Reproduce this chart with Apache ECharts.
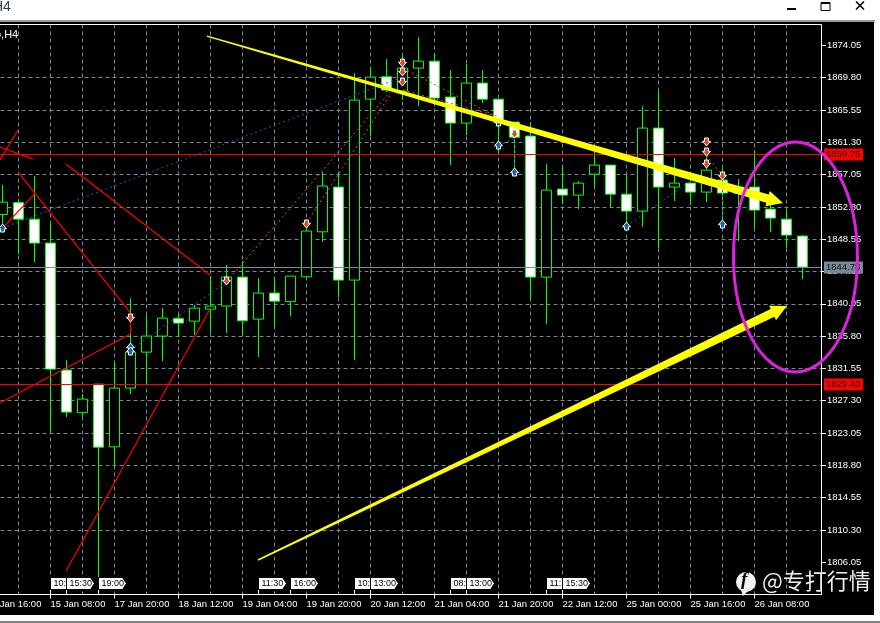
<!DOCTYPE html>
<html>
<head>
<meta charset="utf-8">
<style>html,body{margin:0;padding:0;background:#fff;overflow:hidden}#c{width:880px;height:623px}</style>
<script src="https://cdn.jsdelivr.net/npm/echarts@6/dist/echarts.min.js"></script>
</head>
<body>
<div id="c"></div>
<script>
// Candles, left to right. Each candle sits at axis value index + 1.
const opens = [1851.8,1853.37,1851.19,1848.04,1831.33,1825.73,1829.48,1821.23,1828.96,1833.69,1835.8,1838.1,1837.77,1839.35,1839.75,1843.56,1838.03,1841.46,1840.34,1843.6,1849.52,1855.41,1843.17,1866.98,1869.92,1868.04,1871.06,1871.98,1867.25,1863.83,1869.09,1866.98,1863.96,1862.12,1843.56,1855.14,1854.35,1857.11,1858.3,1854.48,1852.25,1863.17,1855.41,1855.93,1854.75,1856.33,1854.62,1855.41,1852.51,1851.19,1848.96];
const closes = [1853.43,1851.19,1848.04,1831.46,1825.8,1827.51,1821.19,1828.96,1833.69,1835.8,1838.17,1837.51,1839.48,1839.75,1843.56,1837.81,1841.46,1840.4,1843.69,1849.62,1855.54,1843.17,1866.85,1869.88,1868.17,1871.06,1871.98,1867.12,1863.83,1869.09,1866.98,1863.96,1861.98,1843.56,1855.01,1854.35,1855.93,1858.3,1854.48,1852.25,1863.17,1855.41,1855.93,1854.75,1857.64,1854.62,1855.41,1852.38,1851.33,1849.09,1844.88];
const lows = [1849.48,1846.59,1845.54,1823.3,1825.14,1825.14,1804.09,1818.83,1828.17,1829.61,1832.51,1835.67,1835.93,1836.32,1836.19,1835.93,1833.04,1836.98,1838.43,1843.43,1848.21,1840.93,1832.64,1862.12,1867.9,1866.85,1866.06,1866.06,1858.3,1862.25,1866.46,1859.88,1857.38,1840.8,1837.38,1853.17,1852.51,1855.27,1852.77,1849.75,1850.14,1847.38,1853.56,1853.04,1853.43,1850.14,1848.3,1850.01,1849.48,1847.38,1843.3];
const highs = [1855.67,1853.83,1856.85,1850.8,1832.64,1828.17,1829.48,1832.51,1840.8,1838.56,1839.48,1838.69,1839.88,1843.69,1845.14,1845.67,1843.43,1843.56,1843.69,1851.06,1857.38,1857.38,1870.4,1871.19,1872.25,1872.77,1875.14,1872.9,1870.8,1871.59,1870.8,1866.98,1863.96,1863.96,1858.43,1858.17,1856.19,1860.01,1858.3,1856.98,1866.06,1868.04,1859.22,1855.93,1860.54,1857.9,1856.46,1860.27,1853.69,1852.38,1849.09];

const xTickValues = [0,4,8,12,16,20,24,28,32,36,40,44,48];
const xTickLabels = ['14 Jan 16:00','15 Jan 08:00','17 Jan 20:00','18 Jan 12:00','19 Jan 04:00','19 Jan 20:00','20 Jan 12:00','21 Jan 04:00','21 Jan 20:00','22 Jan 12:00','25 Jan 00:00','25 Jan 16:00','26 Jan 08:00'];
const yTickValues = [1806.05,1810.30,1814.55,1818.80,1823.05,1827.30,1831.55,1835.80,1840.05,1844.30,1848.55,1852.80,1857.05,1861.30,1865.55,1869.80,1874.05];

const levelPrices = [1859.75,1829.40,1844.78];
const levelColors = ['#ff0000','#ff0000','#778899'];

const redSegments = [
  [[0.84,1858.96],[1.97,1862.91]],[[0.84,1860.67],[2.91,1859.09]],
  [[1.97,1857.38],[9,1838.84]],[[9,1838.84],[9,1836.07]],[[0,1826.07],[9,1836.07]],
  [[4.97,1858.44],[13.97,1843.83]],[[4.97,1804.89],[13.97,1839.36]],[[3,1854.49],[1,1850.02]]
];
const orangeSegments = [
  [[15,1842.91],[25.22,1867.91]],[[20,1850.68],[25.22,1867.52]],
  [[26.03,1871.07],[31.66,1864.89]],[[26.03,1868.18],[31.9,1864.76]],[[45,1859.62],[46,1856.86]]
];
const blueSegments = [
  [[1,1850.02],[26,1869.89]],[[9,1833.97],[15,1842.91]],[[32,1860.81],[33,1861.86]],
  [[33,1861.86],[33,1857.39]],[[40,1850.28],[44.97,1857.65]],[[46,1856.34],[46,1850.81]]
];
const downSignals = [[9,1838.18],[15,1843.05],[20,1850.55],[26,1871.73],[26,1870.55],[26,1869.23],[33,1862.39],[45,1861.34],[45,1860.02],[45,1858.44],[46,1856.86]];
const upSignals = [[1,1850.02],[9,1834.36],[9,1833.84],[32,1860.94],[32,1863.97],[33,1857.39],[40,1850.28],[46,1850.55]];

const arrowLines = [
  [[13.78,1875.28],[49.78,1853.31]],
  [[16.97,1806.34],[50.03,1839.76]]
];
const ellipseCentre = [50.56,1846.2];
const ellipseRadii = [3.875,15.13];

const timeTagPositions = [4,5,7,17,19,23,24,29,30,35,36];
const timeTagTexts = ['10:','15:30','19:00','11:30','16:00','10:','13:00','08:','13:00','11:','15:30'];

const Y_MIN = 1801.8, Y_MAX = 1876.8, X_MAX = 834.5/16;
const NARROW = '"Liberation Sans",sans-serif';

const chart = echarts.init(document.getElementById('c'), null, {renderer:'canvas'});

const candleData = opens.map((o,i)=>[i+1,o,closes[i],lows[i],highs[i]]);

function segmentSeries(segs,color,dash,width,z){
  return {type:'custom',coordinateSystem:'cartesian2d',z:z,silent:true,clip:false,
    data:segs.map(s=>[s[0][0],s[0][1],s[1][0],s[1][1]]),encode:{x:[0,2],y:[1,3]},
    renderItem(p,api){
      const a=api.coord([api.value(0),api.value(1)]),b=api.coord([api.value(2),api.value(3)]);
      return {type:'line',shape:{x1:a[0],y1:a[1],x2:b[0],y2:b[1]},
        style:{stroke:color,lineWidth:width,lineDash:dash,fill:null}};
    }};
}
function arrowPolygon(a,b){
  const dx=b[0]-a[0],dy=b[1]-a[1],L=Math.hypot(dx,dy),ux=dx/L,uy=dy/L,nx=-uy,ny=ux;
  const headLen=16,neck=4.3,headHalf=8,tail=0.7;
  const bx=b[0]-ux*headLen,by=b[1]-uy*headLen;
  return [[a[0]+nx*tail,a[1]+ny*tail],[bx+nx*neck,by+ny*neck],[bx+nx*headHalf,by+ny*headHalf],
          [b[0],b[1]],[bx-nx*headHalf,by-ny*headHalf],[bx-nx*neck,by-ny*neck],[a[0]-nx*tail,a[1]-ny*tail]];
}

chart.setOption({
  animation:false,
  backgroundColor:'#ffffff',
  grid:{left:-13.5,right:59,top:24.5,bottom:28.5,containLabel:false,outerBoundsMode:'none'},
  xAxis:{type:'value',min:0,max:X_MAX,interval:4,
    axisLine:{show:true,onZero:false,lineStyle:{color:'#ffffff',width:1}},
    axisTick:{show:true,length:4,customValues:xTickValues,lineStyle:{color:'#ffffff'}},
    minorTick:{show:false,splitNumber:2},
    axisLabel:{show:true,customValues:xTickValues,color:'#ffffff',fontFamily:NARROW,fontSize:9.5,align:'left',margin:5,hideOverlap:false,
      formatter:v=>xTickLabels[xTickValues.indexOf(v)]||''},
    splitLine:{show:true,lineStyle:{color:'#778899',type:[4,3],width:1}},
    minorSplitLine:{show:true,lineStyle:{color:'#778899',type:[4,3],width:1}}
  },
  yAxis:{type:'value',position:'right',min:Y_MIN,max:Y_MAX,interval:4.25,scale:true,
    axisLine:{show:true,onZero:false,lineStyle:{color:'#ffffff',width:1}},
    axisTick:{show:true,length:5,customValues:yTickValues,lineStyle:{color:'#ffffff'}},
    axisLabel:{show:true,customValues:yTickValues,color:'#ffffff',fontFamily:NARROW,fontSize:9.5,margin:6,
      formatter:v=>v.toFixed(2)},
    splitLine:{show:true,showMinLine:false,showMaxLine:false,lineStyle:{color:'#778899',type:[4,3],width:1}}
  },
  series:[
    {type:'candlestick',z:3,silent:true,barWidth:10,data:candleData,encode:{x:0,y:[1,2,3,4]},
      itemStyle:{color:'#000000',color0:'#ffffff',borderColor:'#00ff00',borderColor0:'#00ff00',borderWidth:1}},
    segmentSeries(redSegments,'#ff0000',null,1.2,4),
    segmentSeries(orangeSegments,'#e8502a',[2,3],1,4),
    segmentSeries(blueSegments,'#1465b5',[2,3],1,4),
    {type:'custom',z:5,silent:true,clip:false,data:levelPrices.map((v,i)=>[0,v,i]),encode:{y:1},
      renderItem(p,api){
        const i=api.value(2),v=api.value(1),y=Math.floor(api.coord([0,v])[1])+0.5,c=p.coordSys;
        return {type:'group',children:[
          {type:'line',shape:{x1:0,y1:y,x2:c.x+c.width,y2:y},style:{stroke:levelColors[i],lineWidth:1}},
          {type:'rect',shape:{x:824,y:y-6,width:39,height:12},style:{fill:levelColors[i]}},
          {type:'text',x:826,y:y,style:{text:v.toFixed(2),fill:'#111111',font:'9.5px '+NARROW,textVerticalAlign:'middle'}}
        ]};
      }},
    {type:'scatter',z:6,silent:true,data:downSignals,symbol:'path://M2.5,0 H7.5 V4 H10 L5,10 L0,4 H2.5 Z',symbolSize:[8,8],
      itemStyle:{color:'#e2492a',borderColor:'#ffffff',borderWidth:1,opacity:1}},
    {type:'scatter',z:6,silent:true,data:upSignals,symbol:'path://M5,0 L10,6 H7.5 V10 H2.5 V6 H0 Z',symbolSize:[8,8],
      itemStyle:{color:'#1465b5',borderColor:'#ffffff',borderWidth:1,opacity:1}},
    {type:'custom',z:7,silent:true,clip:false,data:timeTagPositions.map((v,i)=>[v,Y_MIN,i]),encode:{x:0,y:1},
      renderItem(p,api){
        const c=api.coord([api.value(0),api.value(1)]),x=c[0],y=c[1],i=api.value(2);
        return {type:'group',children:[
          {type:'line',shape:{x1:x,y1:y-5,x2:x,y2:y},style:{stroke:'#ffffff',lineWidth:1}},
          {type:'polygon',shape:{points:[[x,y-17],[x+24,y-17],[x+28,y-11],[x+24,y-5],[x,y-5]]},
            style:{fill:'#ffffff',stroke:'#000000',lineWidth:1}},
          {type:'text',x:x+3,y:y-11,style:{text:timeTagTexts[i],fill:'#000000',font:'9px '+NARROW,textVerticalAlign:'middle'}}
        ]};
      }},
    {type:'custom',z:8,silent:true,clip:false,data:arrowLines.map(a=>[a[0][0],a[0][1],a[1][0],a[1][1]]),encode:{x:[0,2],y:[1,3]},
      renderItem(p,api){
        const a=api.coord([api.value(0),api.value(1)]),b=api.coord([api.value(2),api.value(3)]);
        return {type:'polygon',shape:{points:arrowPolygon(a,b)},style:{fill:'#ffff00'}};
      }},
    {type:'custom',z:9,silent:true,clip:false,data:[[ellipseCentre[0],ellipseCentre[1],ellipseRadii[0],ellipseRadii[1]]],encode:{x:0,y:1},
      renderItem(p,api){
        const c=api.coord([api.value(0),api.value(1)]),s=api.size([api.value(2),api.value(3)]);
        return {type:'ellipse',shape:{cx:c[0],cy:c[1],rx:s[0],ry:s[1]},style:{fill:null,stroke:'#e020e0',lineWidth:3}};
      }}
  ],
  graphic:[
    {type:'rect',z:-10,shape:{x:0,y:22,width:874,height:593},style:{fill:'#000000'}},
    {type:'rect',z:-9,shape:{x:0,y:20,width:875,height:2},style:{fill:'#9a9a9a'}},
    {type:'rect',z:-9,shape:{x:0,y:621,width:880,height:2},style:{fill:'#808080'}},
    {type:'rect',z:1,shape:{x:0,y:24,width:821,height:1},style:{fill:'#ffffff'}},
    {type:'text',z:10,x:-7,y:0,style:{text:'H4',fill:'#2a3a66',font:'14px "Liberation Sans",sans-serif'}},
    {type:'text',z:10,x:-5,y:29,style:{text:'o,H4',fill:'#ffffff',font:'11px "Liberation Sans",sans-serif'}},
    {type:'rect',z:10,shape:{x:787,y:8,width:9,height:2},style:{fill:'#000000'}},
    {type:'rect',z:10,shape:{x:821,y:2.5,width:9,height:8},style:{fill:'none',stroke:'#000000',lineWidth:1}},
    {type:'rect',z:10,shape:{x:821,y:2,width:9,height:2},style:{fill:'#000000'}},
    {type:'line',z:10,shape:{x1:856,y1:1.5,x2:864,y2:9.5},style:{stroke:'#000000',lineWidth:1.6}},
    {type:'line',z:10,shape:{x1:864,y1:1.5,x2:856,y2:9.5},style:{stroke:'#000000',lineWidth:1.6}},
    {type:'circle',z:20,shape:{cx:746,cy:582,r:10},style:{fill:'#f2f2f2'}},
    {type:'polygon',z:20,shape:{points:[[741,590],[748,591],[743,596]]},style:{fill:'#f2f2f2'}},
    {type:'text',z:21,x:741,y:571,style:{text:'f',fill:'#000000',font:'italic bold 19px "Liberation Serif",serif'}},
    {type:'text',z:20,x:762,y:569.5,style:{text:'@专打行情',fill:'#eeeeee',font:'22px "Noto Sans CJK SC",sans-serif'}}
  ]
});
</script>
</body>
</html>
